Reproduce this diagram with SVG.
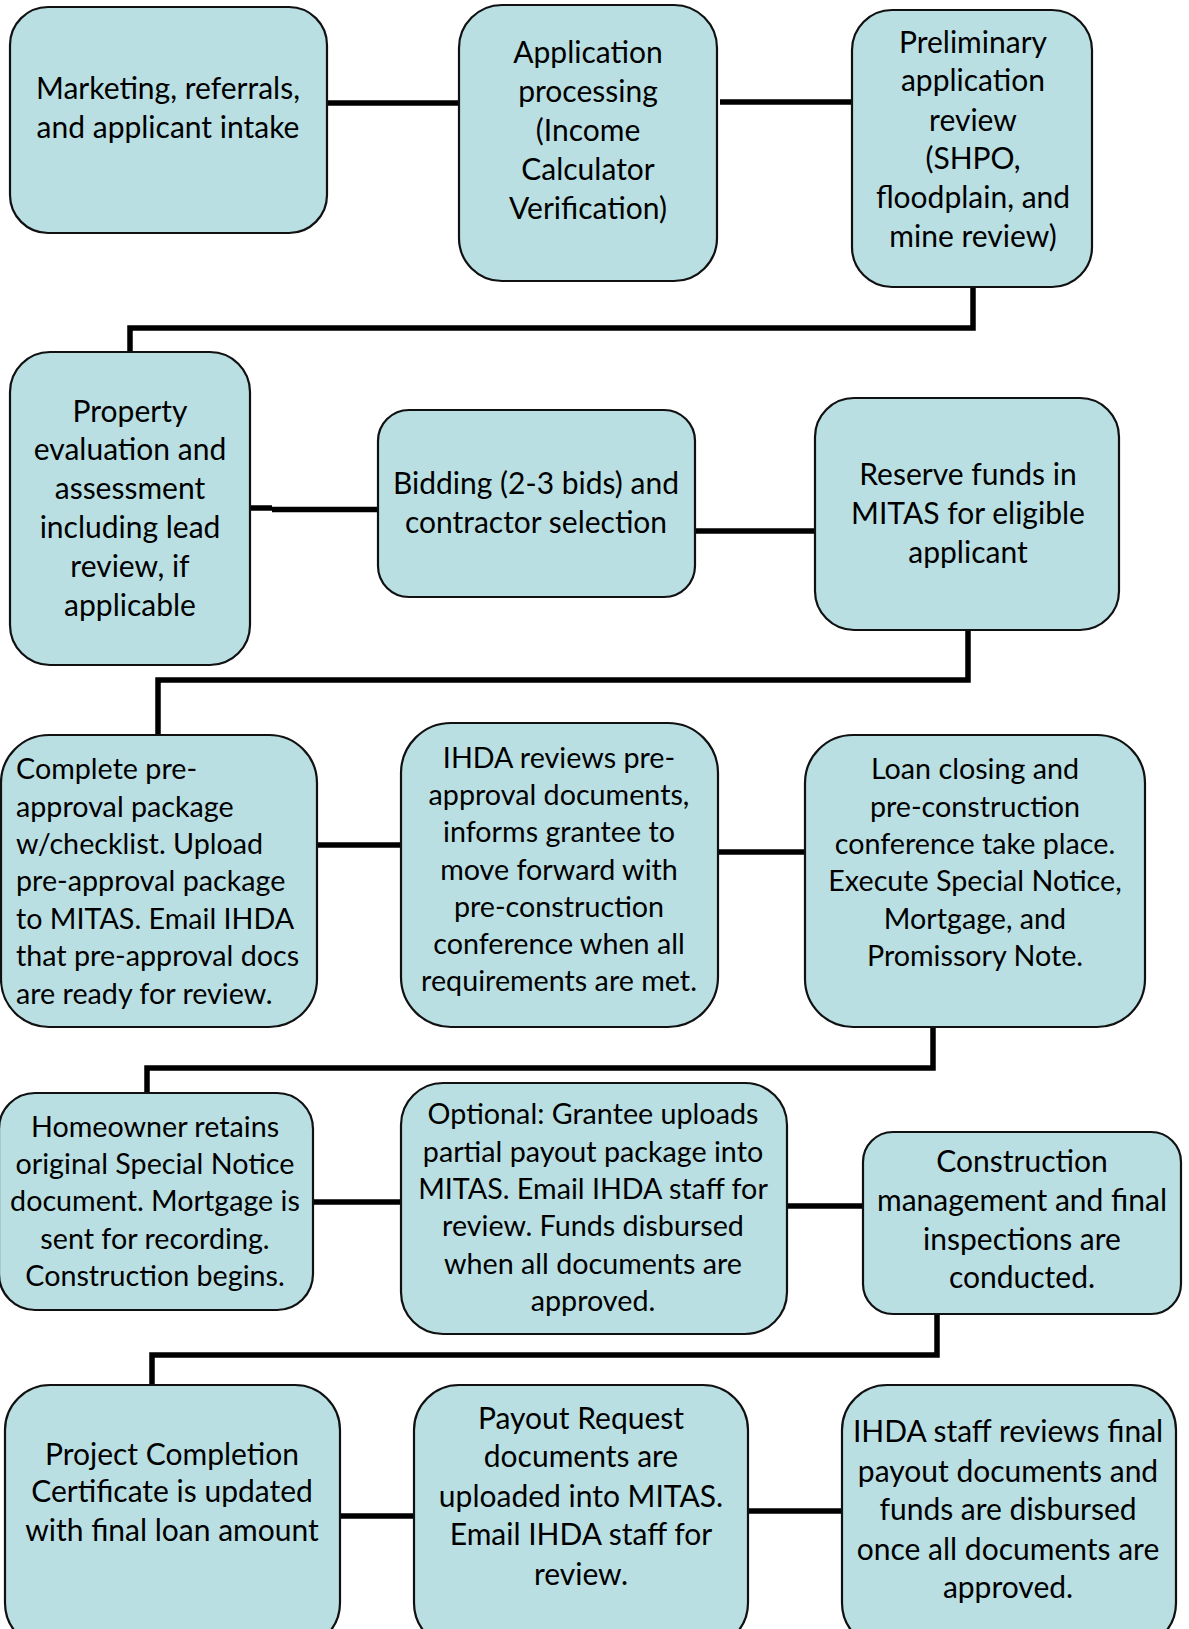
<svg xmlns="http://www.w3.org/2000/svg" width="1189" height="1629" viewBox="0 0 1189 1629">
<style>
.box{fill:#b9dfe3;stroke:#111;stroke-width:2.2}
.t{font-family:Lato,"Liberation Sans",sans-serif;font-size:30px;fill:#000;text-anchor:middle}
.s{font-size:28.7px}
.tl{text-anchor:start}
.c{fill:none;stroke:#000;stroke-width:5.5}
</style>
<rect width="1189" height="1629" fill="#fff"/>
<g id="connectors">
<path class="c" d="M327,103 H459"/>
<path class="c" d="M720,102 H852"/>
<path class="c" d="M973,287 V328 H130 V352"/>
<path class="c" d="M250,508 H272"/>
<path class="c" d="M272,509.5 H378"/>
<path class="c" d="M695,531 H815"/>
<path class="c" d="M968,630 V680 H158 V735"/>
<path class="c" d="M317,845 H401"/>
<path class="c" d="M718,852 H805"/>
<path class="c" d="M933,1027 V1068 H147 V1093"/>
<path class="c" d="M313,1202 H401"/>
<path class="c" d="M787,1206 H863"/>
<path class="c" d="M937,1314 V1355 H152 V1385"/>
<path class="c" d="M340,1516 H414"/>
<path class="c" d="M748,1511 H842"/>
</g>
<g id="n1">
<rect class="box" x="10" y="7" width="317" height="226" rx="38"/>
<text class="t"><tspan x="168" y="99">Marketing, referrals,</tspan><tspan x="168" y="138">and applicant intake</tspan></text>
</g>
<g id="n2">
<rect class="box" x="459" y="5" width="258" height="276" rx="43"/>
<text class="t"><tspan x="588" y="63">Application</tspan><tspan x="588" y="102">processing</tspan><tspan x="588" y="141">(Income</tspan><tspan x="588" y="180">Calculator</tspan><tspan x="588" y="219">Verification)</tspan></text>
</g>
<g id="n3">
<rect class="box" x="852" y="10" width="240" height="277" rx="40"/>
<text class="t"><tspan x="973" y="53">Preliminary</tspan><tspan x="973" y="91">application</tspan><tspan x="973" y="131">review</tspan><tspan x="973" y="169">(SHPO,</tspan><tspan x="973" y="208">floodplain, and</tspan><tspan x="973" y="247">mine review)</tspan></text>
</g>
<g id="n4">
<rect class="box" x="10" y="352" width="240" height="313" rx="40"/>
<text class="t"><tspan x="130" y="422">Property</tspan><tspan x="130" y="460">evaluation and</tspan><tspan x="130" y="499">assessment</tspan><tspan x="130" y="538">including lead</tspan><tspan x="130" y="577">review, if</tspan><tspan x="130" y="616">applicable</tspan></text>
</g>
<g id="n5">
<rect class="box" x="378" y="410" width="317" height="187" rx="31"/>
<text class="t"><tspan x="536" y="494">Bidding (2-3 bids) and</tspan><tspan x="536" y="533">contractor selection</tspan></text>
</g>
<g id="n6">
<rect class="box" x="815" y="398" width="304" height="232" rx="39"/>
<text class="t"><tspan x="968" y="485">Reserve funds in</tspan><tspan x="968" y="524">MITAS for eligible</tspan><tspan x="968" y="563">applicant</tspan></text>
</g>
<g id="n7">
<rect class="box" x="1" y="735" width="316" height="292" rx="48"/>
<text class="t s tl"><tspan x="16" y="779">Complete pre-</tspan><tspan x="16" y="817">approval package</tspan><tspan x="16" y="854">w/checklist. Upload</tspan><tspan x="16" y="891">pre-approval package</tspan><tspan x="16" y="929">to MITAS. Email IHDA</tspan><tspan x="16" y="966">that pre-approval docs</tspan><tspan x="16" y="1004">are ready for review.</tspan></text>
</g>
<g id="n8">
<rect class="box" x="401" y="723" width="317" height="304" rx="50"/>
<text class="t s"><tspan x="559" y="768">IHDA reviews pre-</tspan><tspan x="559" y="805">approval documents,</tspan><tspan x="559" y="842">informs grantee to</tspan><tspan x="559" y="880">move forward with</tspan><tspan x="559" y="917">pre-construction</tspan><tspan x="559" y="954">conference when all</tspan><tspan x="559" y="991">requirements are met.</tspan></text>
</g>
<g id="n9">
<rect class="box" x="805" y="735" width="340" height="292" rx="48"/>
<text class="t s"><tspan x="975" y="779">Loan closing and</tspan><tspan x="975" y="817">pre-construction</tspan><tspan x="975" y="854">conference take place.</tspan><tspan x="975" y="891">Execute Special Notice,</tspan><tspan x="975" y="929">Mortgage, and</tspan><tspan x="975" y="966">Promissory Note.</tspan></text>
</g>
<g id="n10">
<rect class="box" x="-1" y="1093" width="314" height="217" rx="36"/>
<text class="t s"><tspan x="155" y="1137">Homeowner retains</tspan><tspan x="155" y="1174">original Special Notice</tspan><tspan x="155" y="1211">document. Mortgage is</tspan><tspan x="155" y="1249">sent for recording.</tspan><tspan x="155" y="1286">Construction begins.</tspan></text>
</g>
<g id="n11">
<rect class="box" x="401" y="1083" width="386" height="251" rx="42"/>
<text class="t s"><tspan x="593" y="1124">Optional: Grantee uploads</tspan><tspan x="593" y="1162">partial payout package into</tspan><tspan x="593" y="1199">MITAS. Email IHDA staff for</tspan><tspan x="593" y="1236">review. Funds disbursed</tspan><tspan x="593" y="1274">when all documents are</tspan><tspan x="593" y="1311">approved.</tspan></text>
</g>
<g id="n12">
<rect class="box" x="863" y="1132" width="318" height="182" rx="30"/>
<text class="t"><tspan x="1022" y="1172">Construction</tspan><tspan x="1022" y="1211">management and final</tspan><tspan x="1022" y="1250">inspections are</tspan><tspan x="1022" y="1288">conducted.</tspan></text>
</g>
<g id="n13">
<rect class="box" x="5" y="1385" width="335" height="263" rx="45"/>
<text class="t"><tspan x="172" y="1465">Project Completion</tspan><tspan x="172" y="1502">Certificate is updated</tspan><tspan x="172" y="1541">with final loan amount</tspan></text>
</g>
<g id="n14">
<rect class="box" x="414" y="1385" width="334" height="263" rx="45"/>
<text class="t"><tspan x="581" y="1429">Payout Request</tspan><tspan x="581" y="1467">documents are</tspan><tspan x="581" y="1507">uploaded into MITAS.</tspan><tspan x="581" y="1545">Email IHDA staff for</tspan><tspan x="581" y="1585">review.</tspan></text>
</g>
<g id="n15">
<rect class="box" x="842" y="1385" width="334" height="263" rx="45"/>
<text class="t"><tspan x="1008" y="1442">IHDA staff reviews final</tspan><tspan x="1008" y="1482">payout documents and</tspan><tspan x="1008" y="1520">funds are disbursed</tspan><tspan x="1008" y="1560">once all documents are</tspan><tspan x="1008" y="1598">approved.</tspan></text>
</g>
</svg>
